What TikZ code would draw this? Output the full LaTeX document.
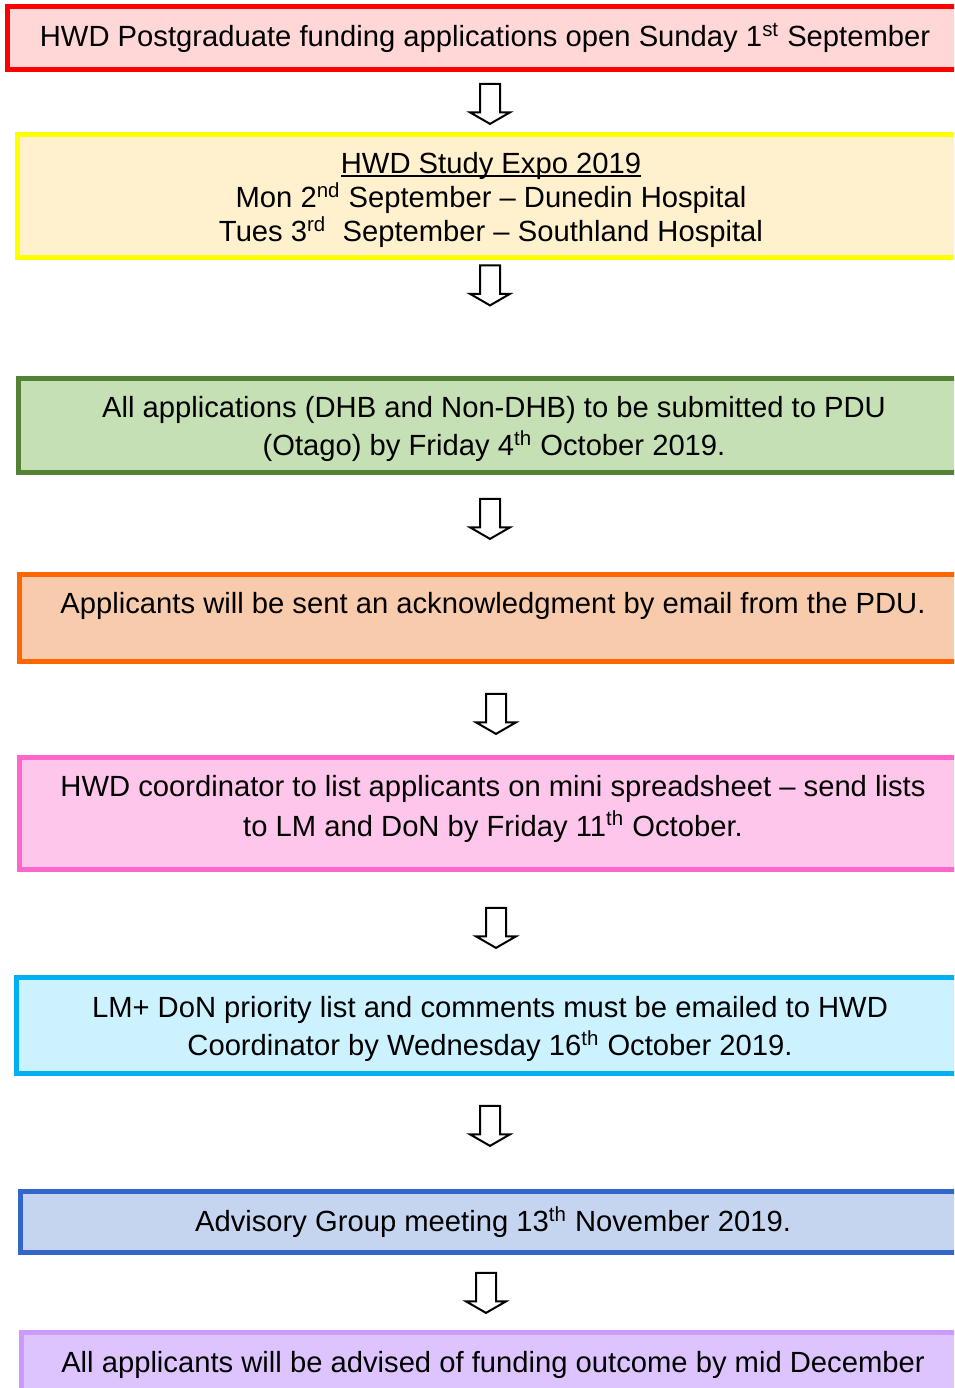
\documentclass[tikz,border=0pt]{standalone}
\usepackage{fontspec}
\setmainfont{Liberation Sans}
\usepackage{tikz}
\usetikzlibrary{shapes.arrows, positioning}
\definecolor{RB}{RGB}{255,0,0}
\definecolor{RF}{RGB}{255,215,215}
\definecolor{YB}{RGB}{255,255,0}
\definecolor{YF}{RGB}{255,240,206}
\definecolor{GB}{RGB}{84,130,53}
\definecolor{GF}{RGB}{197,224,180}
\definecolor{OB}{RGB}{255,102,0}
\definecolor{OF}{RGB}{248,203,173}
\definecolor{PB}{RGB}{255,102,204}
\definecolor{PF}{RGB}{255,198,236}
\definecolor{CB}{RGB}{0,176,240}
\definecolor{CF}{RGB}{204,242,255}
\definecolor{BB}{RGB}{51,102,204}
\definecolor{BF}{RGB}{197,213,240}
\definecolor{VB}{RGB}{204,153,255}
\definecolor{VF}{RGB}{222,196,255}
\newcommand\ulinetxt[1]{\setbox0\hbox{#1}\rlap{\rule[-1.6pt]{\wd0}{0.75pt}}\box0}
\newcommand\topgap{\rule{0pt}{14.5pt}}

\begin{document}
\begin{tikzpicture}[
  x=0.5pt, y=-0.5pt,
  stage/.style 2 args={draw=#1, fill=#2, line width=2.5pt, inner sep=0pt,
                       align=center, font=\fontsize{14.6}{17}\selectfont},
  down/.style={single arrow, draw=black, fill=white, line width=1pt,
               rotate=-90, inner xsep=0pt, inner ysep=4.5pt, minimum height=20pt,
               single arrow head extend=5pt, single arrow tip angle=120}
]
\useasboundingbox (0,0) rectangle (954,1388);
\clip (0,0) rectangle (954,1388);

% Stages
\node[stage={RB}{RF}, minimum width=477.25pt, minimum height=31.5pt] (open) at (485,38)
  {HWD Postgraduate funding applications open Sunday 1\textsuperscript{st} September};
\node[stage={YB}{YF}, minimum width=473.75pt, minimum height=61.5pt] (expo) at (491,196)
  {\topgap\ulinetxt{HWD Study Expo 2019}\\
   Mon 2\textsuperscript{nd} September – Dunedin Hospital\\
   Tues 3\textsuperscript{rd}\ \ September – Southland Hospital};
\node[stage={GB}{GF}, minimum width=476pt, minimum height=47pt] (submit) at (494,425.5)
  {\topgap All applications (DHB and Non-DHB) to be submitted to PDU\\[2pt]
   (Otago) by Friday 4\textsuperscript{th} October 2019.};
\node[stage={OB}{OF}, minimum width=473.25pt, minimum height=43.5pt] (ack) at (493,618)
  {\topgap Applicants will be sent an acknowledgment by email from the PDU.\\[2pt] \mbox{}};
\node[stage={PB}{PF}, minimum width=473.5pt, minimum height=56pt] (list) at (493,813.5)
  {HWD coordinator to list applicants on mini spreadsheet – send lists\\[3pt]
   to LM and DoN by Friday 11\textsuperscript{th} October.\\[-9pt] \mbox{}};
\node[stage={CB}{CF}, minimum width=473.5pt, minimum height=48pt] (prio) at (490,1025.5)
  {\topgap LM+ DoN priority list and comments must be emailed to HWD\\[2pt]
   Coordinator by Wednesday 16\textsuperscript{th} October 2019.};
\node[stage={BB}{BF}, minimum width=472.5pt, minimum height=30.5pt] (advis) at (493,1222)
  {Advisory Group meeting 13\textsuperscript{th} November 2019.};
\node[stage={VB}{VF}, minimum width=471.5pt, minimum height=32pt] (outcome) at (493,1364.5)
  {All applicants will be advised of funding outcome by mid December};

% Arrows between stages
\node[down] (a1) at (490,101) {};
\node[down] (a2) at (490,282.5) {};
\node[down] (a3) at (490,516) {};
\node[down] (a4) at (496,711) {};
\node[down] (a5) at (496,925) {};
\node[down] (a6) at (490,1123) {};
\node[down] (a7) at (486,1290) {};
\end{tikzpicture}
\end{document}
